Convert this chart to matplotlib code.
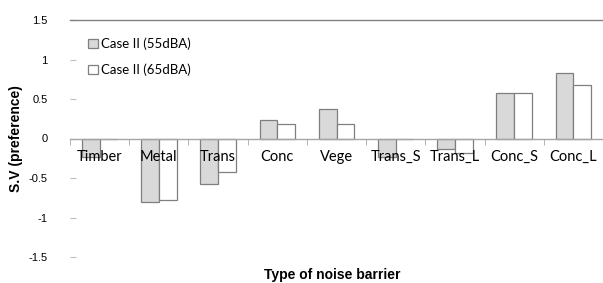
import matplotlib
matplotlib.use("Agg")
import matplotlib.pyplot as plt
import numpy as np

categories = ["Timber", "Metal", "Trans", "Conc", "Vege", "Trans_S", "Trans_L", "Conc_S", "Conc_L"]
case55 = [-0.23, -0.80, -0.57, 0.23, 0.37, -0.24, -0.13, 0.57, 0.83]
case65 = [0.0, -0.78, -0.43, 0.18, 0.18, 0.0, -0.18, 0.57, 0.68]
series_names = ["Case II (55dBA)", "Case II (65dBA)"]
yticks = [-1.5, -1, -0.5, 0, 0.5, 1, 1.5]
ytick_labels = ["-1.5", "-1", "-0.5", "0", "0.5", "1", "1.5"]

fig = plt.figure(figsize=(6.03, 2.83), dpi=100)
ax = fig.add_axes([70/603, 26/283, 533/603, 237/283])

x = np.arange(len(categories))
w = 0.3
ax.bar(x - w/2, case55, width=w, color="#d9d9d9", edgecolor="#7f7f7f", linewidth=0.9, label=series_names[0], zorder=1)
ax.bar(x + w/2, case65, width=w, color="white", edgecolor="#7f7f7f", linewidth=0.9, label=series_names[1], zorder=1)

ax.set_xlim(-0.5, len(categories) - 0.5)
ax.set_ylim(-1.5, 1.5)

for s in ["left", "right"]:
    ax.spines[s].set_visible(False)
ax.spines["top"].set_color("#808080")
ax.spines["top"].set_linewidth(1.0)
ax.spines["bottom"].set_position(("data", 0))
ax.spines["bottom"].set_color("#a6a6a6")
ax.spines["bottom"].set_linewidth(1.0)

ax.set_yticks(yticks)
ax.set_yticklabels(ytick_labels, fontsize=8, family="Liberation Sans")
ax.tick_params(axis="y", direction="in", length=4, color="#bfbfbf", pad=16)

ax.set_xticks(x)
ax.set_xticklabels(categories, fontsize=10.5, family="Lato")
ax.tick_params(axis="x", which="major", length=0, pad=8)
ax.set_xticks(np.arange(len(categories) + 1) - 0.5, minor=True)
ax.tick_params(axis="x", which="minor", length=4, color="#a6a6a6", direction="out")

ax.set_ylabel("S.V (preference)", fontsize=10, fontweight="bold", family="Liberation Sans")
ax.yaxis.set_label_coords(-0.088, 0.5)
fig.text(332/603, 1/283, "Type of noise barrier", fontsize=10, fontweight="bold",
         family="Liberation Sans", ha="center", va="bottom")

leg = ax.legend(loc="upper left", bbox_to_anchor=(0.012, 0.975), frameon=False,
                prop={"family": "Lato", "size": 9.5}, handlelength=0.7, handleheight=0.7,
                handletextpad=0.3, labelspacing=1.0)

fig.savefig("out.png", dpi=100)
